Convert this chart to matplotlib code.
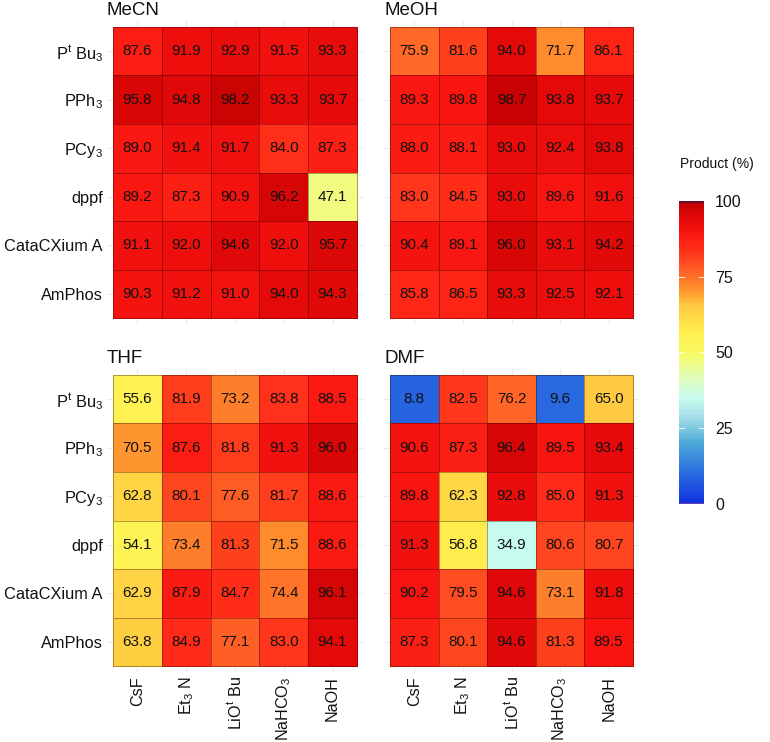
import numpy as np
import matplotlib
matplotlib.use("Agg")
import matplotlib.pyplot as plt
from matplotlib.colors import LinearSegmentedColormap, Normalize
from matplotlib.cm import ScalarMappable

plt.rcParams['font.family'] = ['Liberation Sans', 'DejaVu Sans']
plt.rcParams['mathtext.default'] = 'regular'

ligands = [r'P$^{t}$ Bu$_{3}$', r'PPh$_{3}$', r'PCy$_{3}$', 'dppf', 'CataCXium A', 'AmPhos']
bases = ['CsF', r'Et$_{3}$ N', r'LiO$^{t}$ Bu', r'NaHCO$_{3}$', 'NaOH']

mecn = [[87.6, 91.9, 92.9, 91.5, 93.3],
        [95.8, 94.8, 98.2, 93.3, 93.7],
        [89.0, 91.4, 91.7, 84.0, 87.3],
        [89.2, 87.3, 90.9, 96.2, 47.1],
        [91.1, 92.0, 94.6, 92.0, 95.7],
        [90.3, 91.2, 91.0, 94.0, 94.3]]
meoh = [[75.9, 81.6, 94.0, 71.7, 86.1],
        [89.3, 89.8, 98.7, 93.8, 93.7],
        [88.0, 88.1, 93.0, 92.4, 93.8],
        [83.0, 84.5, 93.0, 89.6, 91.6],
        [90.4, 89.1, 96.0, 93.1, 94.2],
        [85.8, 86.5, 93.3, 92.5, 92.1]]
thf = [[55.6, 81.9, 73.2, 83.8, 88.5],
       [70.5, 87.6, 81.8, 91.3, 96.0],
       [62.8, 80.1, 77.6, 81.7, 88.6],
       [54.1, 73.4, 81.3, 71.5, 88.6],
       [62.9, 87.9, 84.7, 74.4, 96.1],
       [63.8, 84.9, 77.1, 83.0, 94.1]]
dmf = [[8.8, 82.5, 76.2, 9.6, 65.0],
       [90.6, 87.3, 96.4, 89.5, 93.4],
       [89.8, 62.3, 92.8, 85.0, 91.3],
       [91.3, 56.8, 34.9, 80.6, 80.7],
       [90.2, 79.5, 94.6, 73.1, 91.8],
       [87.3, 80.1, 94.6, 81.3, 89.5]]
solvents = ['MeCN', 'MeOH', 'THF', 'DMF']
panels = [mecn, meoh, thf, dmf]

stops = [(0.00, '#1030e0'), (0.10, '#2a6ce0'), (0.20, '#4aa8d8'), (0.25, '#80c8e0'),
         (0.30, '#aee6ec'), (0.35, '#c8fbee'), (0.42, '#e2fcb8'), (0.50, '#f8fa60'),
         (0.56, '#fff050'), (0.62, '#ffd844'), (0.66, '#ffc640'), (0.70, '#ff9a30'),
         (0.75, '#ff7028'), (0.80, '#ff4a20'), (0.85, '#ff2a18'), (0.90, '#f81410'),
         (0.95, '#e00808'), (1.00, '#c00000')]
cmap = LinearSegmentedColormap.from_list('prod', stops)
norm = Normalize(0, 100)

W, H = 770, 742
fig = plt.figure(figsize=(W / 100, H / 100), dpi=100)

def rect(l, r, t, b):
    return [l / W, 1 - b / H, (r - l) / W, (b - t) / H]

boxes = [(107, 363, 21, 324), (384, 639, 21, 324), (107, 363, 369, 672), (384, 639, 369, 672)]

for i, (name, data, box) in enumerate(zip(solvents, panels, boxes)):
    ax = fig.add_axes(rect(*box))
    arr = np.array(data)
    nr, nc = arr.shape
    ax.set_xlim(-0.625, nc - 1 + 0.625)
    ax.set_ylim(nr - 1 + 0.62, -0.62)
    ax.set_xticks(range(nc))
    ax.set_yticks(range(nr))
    ax.grid(True, color='#ebebeb', linewidth=0.8, zorder=0)
    ax.set_axisbelow(True)
    xe = np.arange(nc + 1) - 0.5
    ye = np.arange(nr + 1) - 0.5
    ax.pcolormesh(xe, ye, arr, cmap=cmap, norm=norm,
                  edgecolors=(0.1, 0, 0, 0.35), linewidth=0.7, zorder=2)
    for r in range(nr):
        for c in range(nc):
            ax.text(c, r, f'{arr[r, c]:.1f}', ha='center', va='center',
                    fontsize=11, color='#111111', zorder=3)
    for s in ax.spines.values():
        s.set_visible(False)
    ax.tick_params(axis='y', length=0, labelsize=11.8, colors='#111111', pad=3)
    ax.tick_params(axis='x', length=0, labelsize=11.6, colors='#111111', pad=3)
    if i % 2 == 0:
        ax.set_yticklabels(ligands)
    else:
        ax.set_yticklabels([])
    if i >= 2:
        ax.set_xticklabels(bases, rotation=90, va='top', ha='center')
    else:
        ax.set_xticklabels([])
    ax.set_title(name, loc='left', fontsize=13.5, pad=4, color='#111111')

cax = fig.add_axes(rect(679, 704, 201, 504))
sm = ScalarMappable(norm=norm, cmap=cmap)
cb = fig.colorbar(sm, cax=cax, ticks=[0, 25, 50, 75, 100])
cb.outline.set_visible(False)
cax.tick_params(length=0, labelsize=11.5, pad=8, colors='#111111')
for v in [25, 50, 75]:
    cax.plot([0, 0.2], [v, v], color='white', lw=0.8, alpha=0.8)
    cax.plot([0.8, 1], [v, v], color='white', lw=0.8, alpha=0.8)
cax.plot([0, 1], [99.6, 99.6], color='#5a1040', lw=1.2)
cax.plot([0, 1], [0.3, 0.3], color='#9a5090', lw=0.8, alpha=0.6)
cax.set_xlim(0, 1)
cax.set_ylim(0, 100)
fig.text(680 / W, 1 - 164 / H, 'Product (%)', ha='left', va='center', fontsize=10, color='#111111')

fig.savefig('out.png', dpi=100, facecolor='white')
